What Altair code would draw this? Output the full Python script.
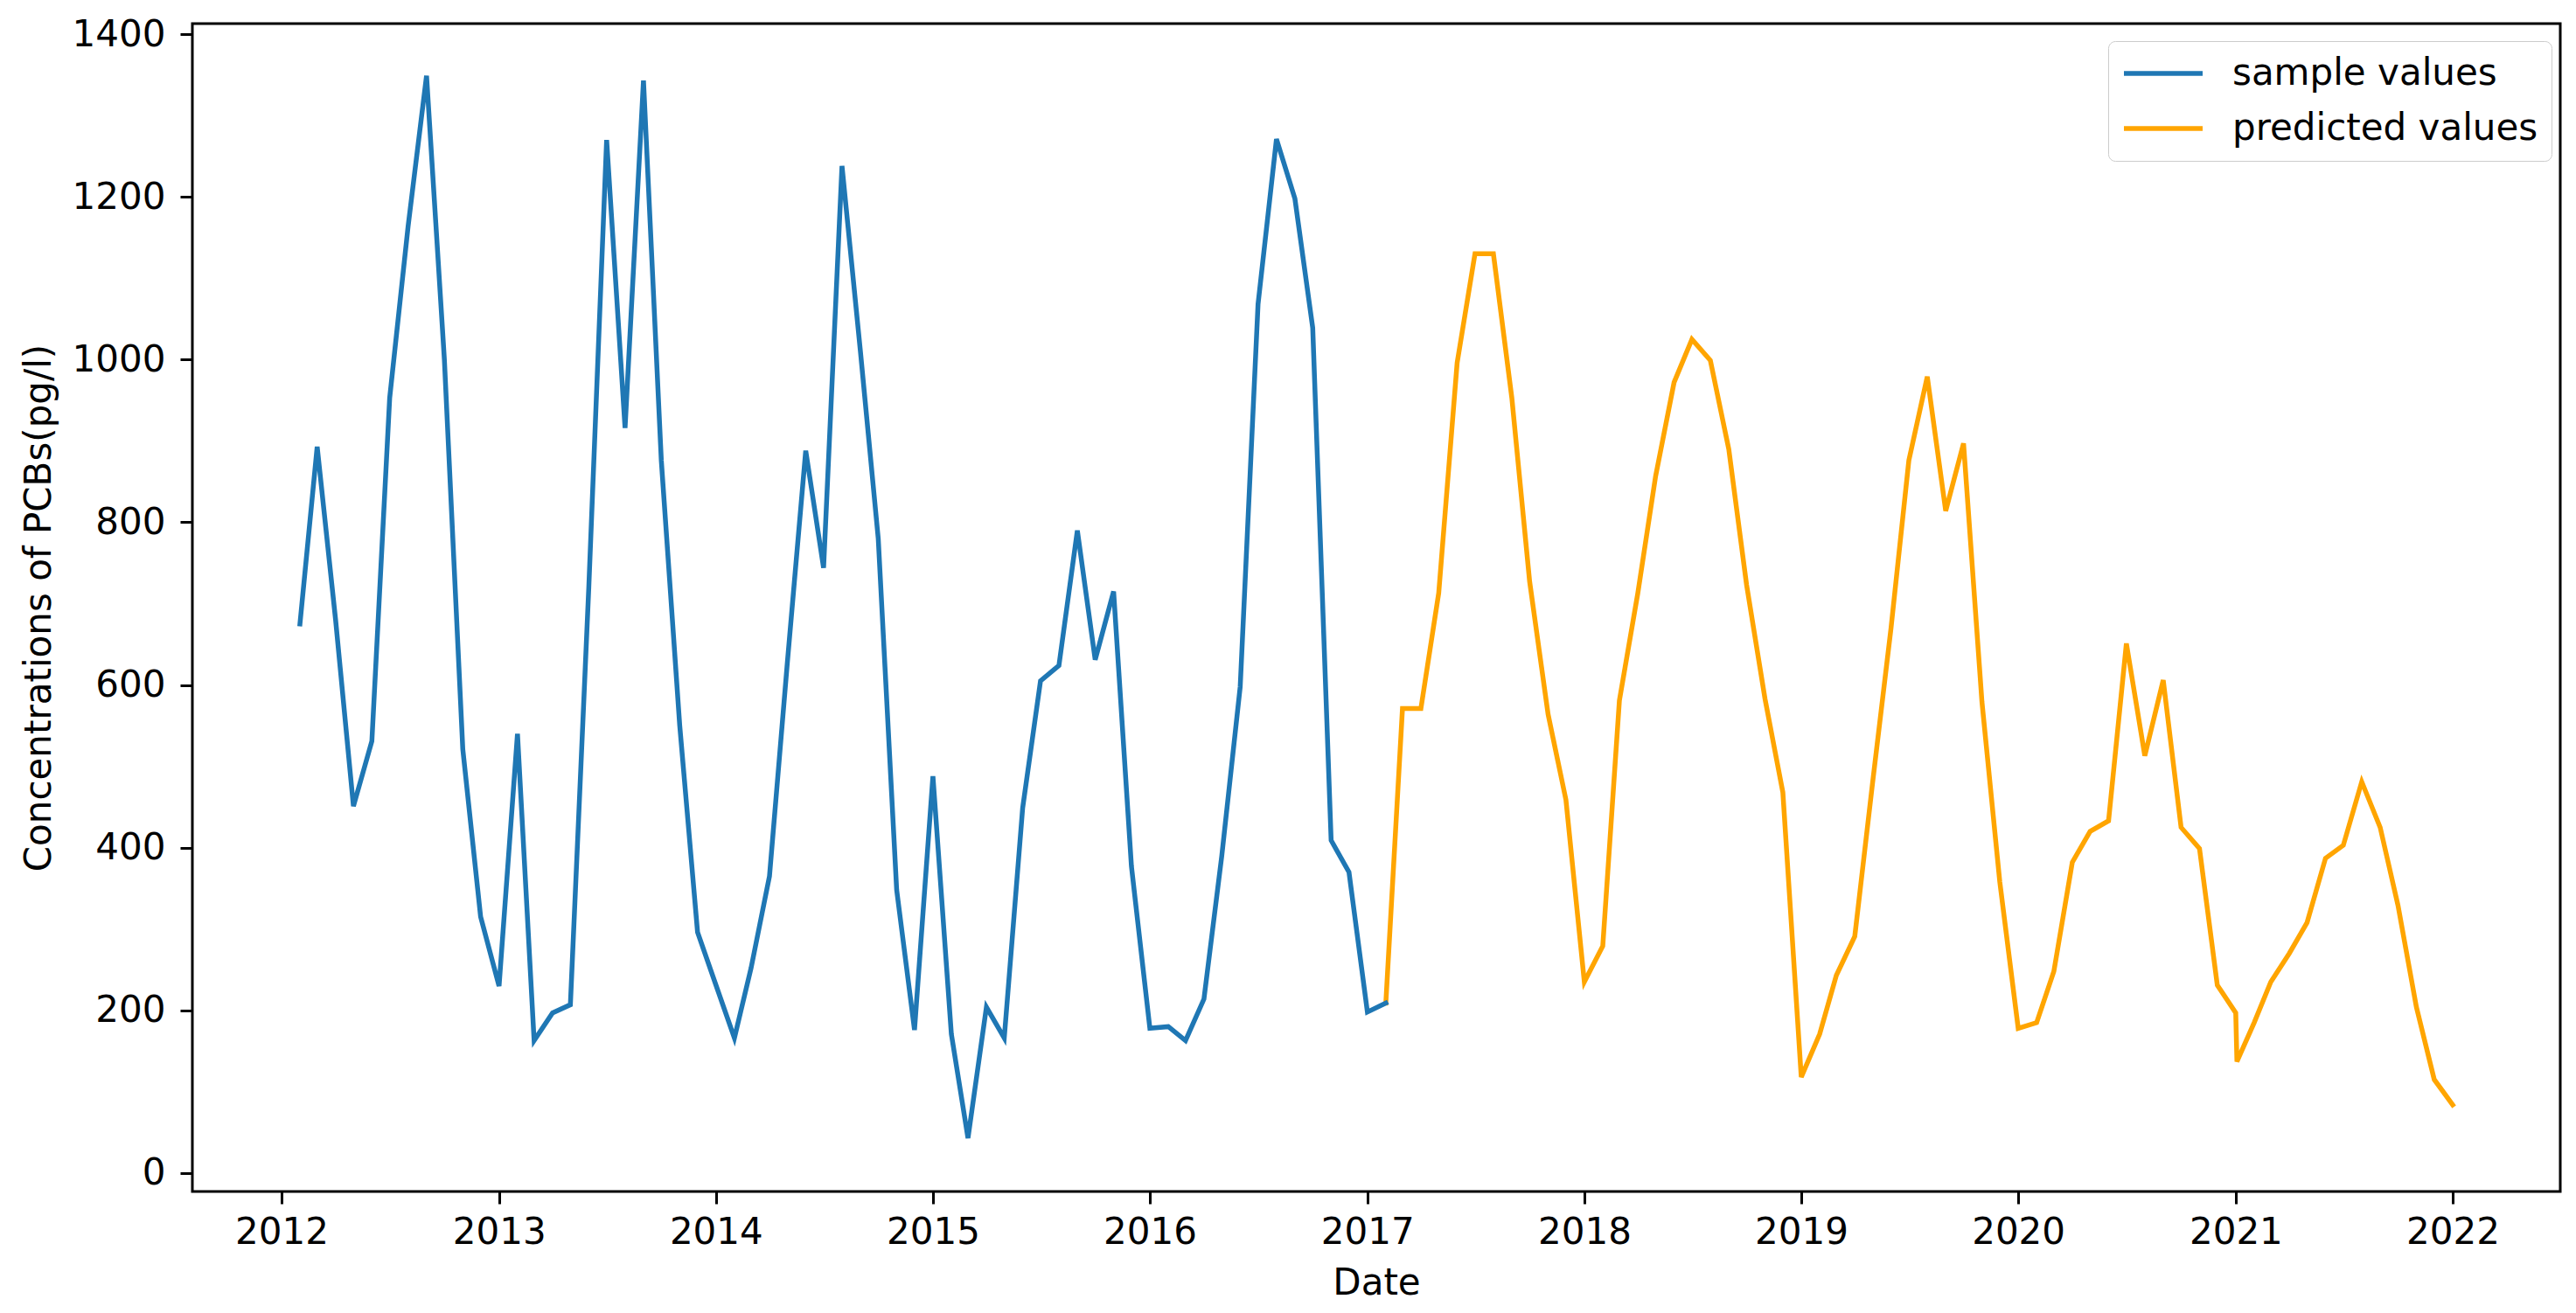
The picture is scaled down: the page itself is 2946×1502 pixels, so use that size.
import altair as alt
import pandas as pd

# ---- data (monthly, first day of month) ----
sample_start = "2012-02-01"
sample_values = [675, 893, 680, 451, 531, 953, 1164, 1349, 1000, 521, 315,
                 230, 540, 163, 197, 207, 720, 1270, 916, 1343, 876, 550, 296,
                 231, 166, 252, 365, 627, 888, 744, 1238, 1010, 780, 348, 176,
                 488, 171, 43, 204, 166, 449, 605, 624, 790, 631, 715, 377,
                 178, 180, 163, 214, 390, 598, 1068, 1271, 1198, 1039, 409, 370,
                 198, 209]

predicted_start = "2017-02-01"
predicted_values = [209, 571, 571, 713, 996, 1130, 1130, 953, 727, 564, 459,
                    235, 279, 581, 713, 857, 972, 1025, 999, 890, 723, 583, 468,
                    118, 171, 243, 291, 480, 670, 876, 979, 814, 897, 579, 358,
                    178, 185, 248, 382, 420, 433, 651, 513, 606, 425, 399, 231,
                    197, 185, 235, 270, 308, 387, 403, 481, 425, 329, 204, 115,
                    84]
# an extra predicted point just after 2021-01 (vertical drop in the picture)
predicted_extra_dates = ["2021-01-03"]
predicted_extra_values = [137]

series_names = ["sample values", "predicted values"]
series_colors = ["#1f77b4", "#ffa500"]
year_ticks = list(range(2012, 2023))
y_ticks = [0, 200, 400, 600, 800, 1000, 1200, 1400]

sample_df = pd.DataFrame({
    "date": pd.date_range(sample_start, periods=len(sample_values), freq="MS"),
    "value": sample_values,
    "series": series_names[0],
})
pred_df = pd.DataFrame({
    "date": list(pd.date_range(predicted_start, periods=len(predicted_values), freq="MS"))
            + list(pd.to_datetime(predicted_extra_dates)),
    "value": predicted_values + predicted_extra_values,
    "series": series_names[1],
})
df = pd.concat([sample_df, pred_df]).sort_values(["series", "date"]).reset_index(drop=True)

FONT = "DejaVu Sans"

chart = (
    alt.Chart(df)
    .mark_line(strokeWidth=5.5, strokeJoin="miter", strokeCap="square")
    .encode(
        x=alt.X(
            "date:T",
            scale=alt.Scale(
                domain=[alt.DateTime(year=2011, month=8, date=4),
                        alt.DateTime(year=2022, month=7, date=1)],
                nice=False,
            ),
            axis=alt.Axis(
                title="Date",
                values=[alt.DateTime(year=y, month=1, date=1) for y in year_ticks],
                format="%Y",
                labelPadding=12,
                titlePadding=17,
                labelFlush=False,
                labelOverlap=False,
            ),
        ),
        y=alt.Y(
            "value:Q",
            scale=alt.Scale(domain=[-22.6, 1413], nice=False, zero=False),
            axis=alt.Axis(
                title="Concentrations of PCBs(pg/l)",
                values=y_ticks,
                format="d",
                labelPadding=17,
                titlePadding=16,
            ),
        ),
        color=alt.Color(
            "series:N",
            sort=series_names,
            scale=alt.Scale(domain=series_names, range=series_colors),
            legend=alt.Legend(
                title=None,
                orient="none",
                legendX=2191,
                legendY=20,
                symbolType="stroke",
                symbolSize=8100,
                symbolStrokeWidth=5.5,
                labelFont=FONT,
                labelFontSize=42,
                labelColor="black",
                labelLimit=1000,
                labelOffset=31,
                padding=15,
                rowPadding=19,
                clipHeight=44,
                strokeColor="#cccccc",
                fillColor="white",
                cornerRadius=8,
            ),
        ),
    )
    .properties(
        width=2708,
        height=1336,
        padding={"left": 212, "top": 19, "right": 10, "bottom": 130},
        autosize=alt.AutoSizeParams(type="none"),
        background="white",
    )
    .configure_view(stroke="black", strokeWidth=3)
    .configure_axis(
        labelFont=FONT,
        labelFontSize=42,
        labelColor="black",
        titleFont=FONT,
        titleFontSize=42,
        titleFontWeight="normal",
        titleColor="black",
        grid=False,
        domain=False,
        tickColor="black",
        tickWidth=3,
        tickSize=14,
    )
)

chart.save("out.html", embed_options={"renderer": "svg", "actions": False})
